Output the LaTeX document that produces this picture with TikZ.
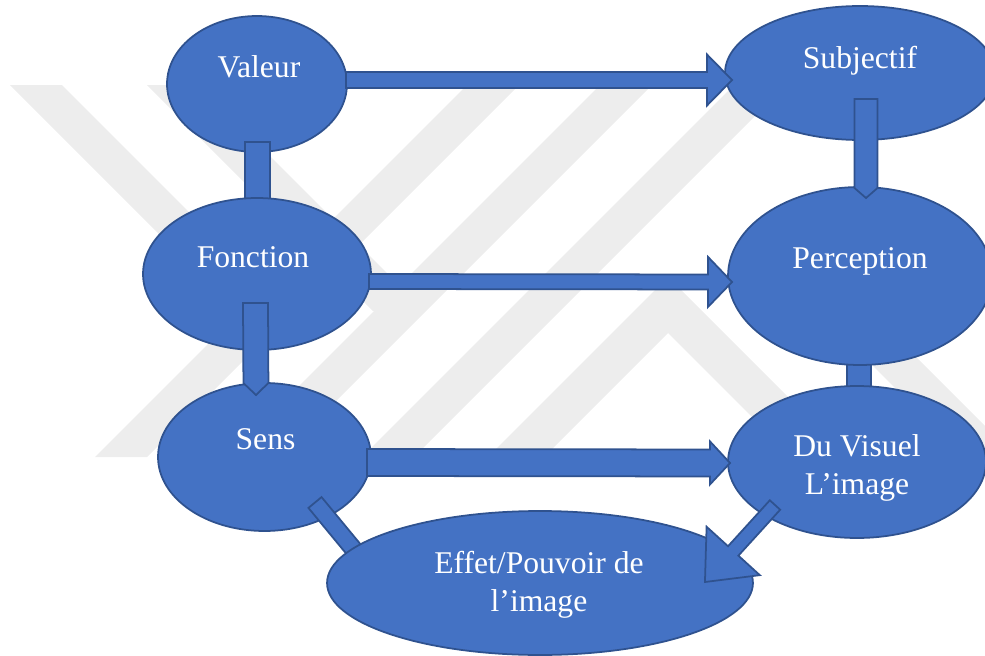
\documentclass[tikz,border=0pt]{standalone}
\usepackage{fontspec}
\setmainfont{Liberation Serif}
\usetikzlibrary{
	positioning			% relative placement
	, calc				% anchor arithmetic for the block arrows
	, shapes.geometric	% ellipse nodes
}

\definecolor{bubblefill}{HTML}{4472C4}
\definecolor{bubbleline}{HTML}{2F528F}
\definecolor{markgray}{HTML}{EDEDED}

\pgfdeclarelayer{watermark}
\pgfdeclarelayer{lower}
\pgfdeclarelayer{links}
\pgfsetlayers{watermark,lower,links,main}

% block arrow: from, tip, shaft half width, head half width, head length
\newcommand{\blockarrow}[5]{
	\coordinate (headbase) at ($(#2)!#5!(#1)$);
	\draw[blockbody] ($(#1)!#3!90:(#2)$) -- ($(headbase)!#3!90:(#2)$) -- ($(headbase)!#4!90:(#2)$) -- (#2)
		-- ($(headbase)!#4!-90:(#2)$) -- ($(headbase)!#3!-90:(#2)$) -- ($(#1)!#3!-90:(#2)$) -- cycle;
}
% block bar: from, to, half width
\newcommand{\blockbar}[3]{
	\draw[blockbody] ($(#1)!#3!90:(#2)$) -- ($(#2)!#3!-90:(#1)$) -- ($(#2)!#3!90:(#1)$) -- ($(#1)!#3!-90:(#2)$) -- cycle;
}

\begin{document}
\begin{tikzpicture}[
		x=0.02cm, y=-0.02cm
		, bubble/.style={ellipse, draw=bubbleline, fill=bubblefill, line width=1pt, inner sep=0pt, outer sep=0pt}
		, caption/.style={text=white, font=\fontsize{18}{21.5}\selectfont, inner sep=0pt}
		, blockbody/.style={draw=bubbleline, fill=bubblefill, line width=1pt, line join=miter}
		, wmstripe/.style={fill=markgray}]

		\useasboundingbox (0,0) rectangle (985,656);

		%%% Watermark
		\begin{pgfonlayer}{watermark}
			%% falling stripes
			\foreach \x in {10, 147} {
				\fill[wmstripe] (\x,85) -- ++(52,0) -- ++(226,226) -- ++(-52,0) -- cycle;
			};
			%% rising stripes
			\foreach \x in {95, 228, 362} {
				\fill[wmstripe] (\x,457) -- ++(52,0) -- ++(372,-372) -- ++(-52,0) -- cycle;
			};
			%% roof
			\fill[wmstripe] (488,457) -- (668,277) -- (848,457) -- (792,457) -- (668,333) -- (544,457) -- cycle;
			\fill[wmstripe] (797,290) -- ++(52,0) -- ++(167,167) -- ++(-52,0) -- cycle;
		\end{pgfonlayer}

		%%% Bubbles
		\begin{pgfonlayer}{lower}
			\node[bubble, minimum width=3.6cm, minimum height=2.72cm] (valeur) at (257,84) {};
			\node[bubble, minimum width=4.26cm, minimum height=2.96cm] (sens) at (264.5,457) {};
		\end{pgfonlayer}
		\node[bubble, minimum width=4.56cm, minimum height=3.04cm] (fonction) at (257,274) {};
		\node[bubble, minimum width=5.4cm, minimum height=2.68cm] (subjectif) at (860,73) {};
		\node[bubble, minimum width=5.28cm, minimum height=3.56cm] (perception) at (860,276) {};
		\node[bubble, minimum width=5.16cm, minimum height=3.04cm] (duvisuel) at (857,462) {};
		\node[bubble, minimum width=8.52cm, minimum height=2.88cm] (effet) at (540,583) {};

		%% Texts
		\node[caption, anchor=base] (valeurtext) at ($(valeur)+(2,-7)$) {Valeur};
		\node[caption, anchor=base] (subjectiftext) at ($(subjectif)+(0,-5)$) {Subjectif};
		\node[caption, anchor=base] (fonctiontext) at ($(fonction)+(-4,-7)$) {Fonction};
		\node[caption, anchor=base] (perceptiontext) at ($(perception)+(0,-8)$) {Perception};
		\node[caption, anchor=base] (senstext) at ($(sens)+(1,-8)$) {Sens};
		\node[caption, align=center] (duvisueltext) at ($(duvisuel)+(0,6)$) {Du Visuel\\L’image};
		\node[caption, align=center] (effettext) at ($(effet)+(-1,2)$) {Effet/Pouvoir de\\l’image};

		%%% Links behind the bubbles
		\begin{pgfonlayer}{links}
			%% Valeur - Fonction
			\coordinate (valeurfoot) at ($(valeur.south)+(0.5,-10)$);
			\coordinate (fonctionhead) at ($(fonction.north)+(0.5,10)$);
			\blockbar{valeurfoot}{fonctionhead}{0.25cm}
			%% Perception - Du Visuel
			\coordinate (perceptionfoot) at ($(perception.south)+(-1,-10)$);
			\coordinate (duvisuelhead) at ($(duvisuel.north)+(2,10)$);
			\blockbar{perceptionfoot}{duvisuelhead}{0.24cm}
			%% Sens - Effet
			\coordinate (sensfoot) at ($(sens)+(50.5,45.5)$);
			\coordinate (effetleft) at ($(effet)+(-168,-11.5)$);
			\blockbar{sensfoot}{effetleft}{0.17cm}
		\end{pgfonlayer}

		%%% Arrows on top
		%% Valeur -> Subjectif
		\coordinate (valeurout) at ($(valeur.east)+(-1,-4)$);
		\coordinate (subjectifin) at ($(subjectif.west)+(7,7)$);
		\blockarrow{valeurout}{subjectifin}{0.16cm}{0.51cm}{0.5cm}

		%% Fonction -> Perception
		\coordinate (fonctionout) at ($(fonction.east)+(-2,7.5)$);
		\coordinate (perceptionin) at ($(perception.west)+(4,6)$);
		\blockarrow{fonctionout}{perceptionin}{0.15cm}{0.5cm}{0.48cm}

		%% Sens -> Du Visuel
		\coordinate (sensout) at ($(sens.east)+(-4,5.5)$);
		\coordinate (duvisuelin) at ($(duvisuel.west)+(2,1)$);
		\blockarrow{sensout}{duvisuelin}{0.27cm}{0.43cm}{0.4cm}

		%% Subjectif -> Perception
		\coordinate (subjectifdown) at ($(subjectif)+(6,26)$);
		\coordinate (perceptiontop) at ($(perception.north)+(6,11)$);
		\blockarrow{subjectifdown}{perceptiontop}{0.23cm}{0.23cm}{0.2cm}

		%% Fonction -> Sens
		\coordinate (fonctiondown) at ($(fonction)+(-1.5,29)$);
		\coordinate (senstop) at ($(sens.north)+(-8.5,12)$);
		\blockarrow{fonctiondown}{senstop}{0.25cm}{0.25cm}{0.24cm}

		%% Du Visuel -> Effet
		\coordinate (duvisueldown) at ($(duvisuel)+(-82,43)$);
		\coordinate (effetright) at ($(effet.east)+(-48,-1)$);
		\blockarrow{duvisueldown}{effetright}{0.14cm}{0.72cm}{0.84cm}
	\end{tikzpicture}
\end{document}
